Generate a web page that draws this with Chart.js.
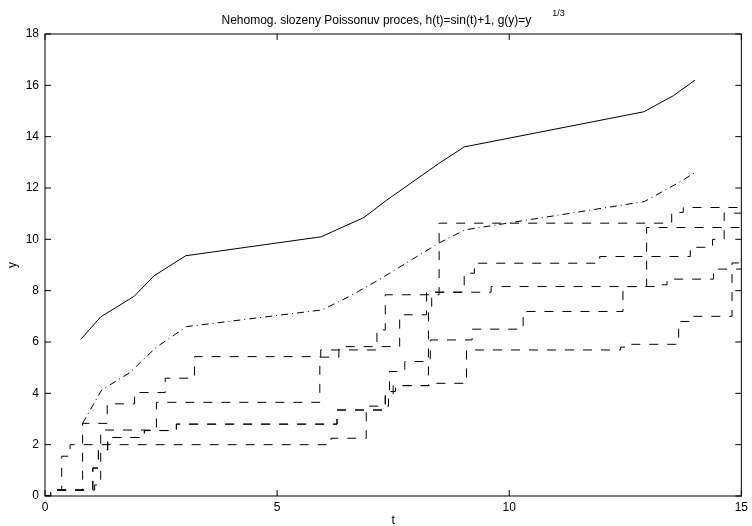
<!DOCTYPE html>
<html>
<head>
<meta charset="utf-8">
<script src="https://cdn.jsdelivr.net/npm/chart.js@4.4.1/dist/chart.umd.min.js"></script>
<style>
  body { margin: 0; background: #fff; }
</style>
</head>
<body>
<canvas id="myChart" width="752" height="526"></canvas>
<script>
// horni krivka (plna)
const meanT = [0.77, 1.2, 1.92, 2.35, 3.03, 5.95, 6.87, 7.37, 8.48, 9.03, 12.9, 13.54, 14.0];
const meanY = [6.1, 6.98, 7.78, 8.58, 9.36, 10.1, 10.85, 11.54, 12.95, 13.6, 14.97, 15.6, 16.2];

// carkovana-teckovana krivka
const ddT = [0.81, 1.22, 1.82, 2.4, 3.05, 5.97, 6.55, 7.19, 8.48, 9.05, 12.91, 13.69, 14.0];
const ddY = [2.83, 4.13, 4.8, 5.8, 6.6, 7.25, 7.77, 8.42, 9.85, 10.37, 11.47, 12.25, 12.6];

// trajektorie (casy skoku a nove hodnoty)
const aT = [0, 0.12, 0.81, 1.34, 1.93, 2.59, 3.22, 5.94, 7.15, 7.33, 8.49, 13.5, 13.75, 15];
const aY = [0, 0.23, 2.83, 3.59, 4.03, 4.59, 5.43, 5.69, 6.47, 7.84, 10.63, 11.05, 11.24, 11.24];

const bT = [0, 0.12, 1.03, 1.15, 1.35, 2.14, 2.83, 6.29, 6.98, 7.4, 7.55, 8.26, 8.33, 9.61, 12.96, 15];
const bY = [0, 0.23, 1.09, 1.8, 2.28, 2.55, 2.8, 3.35, 3.5, 4.07, 4.3, 7.19, 7.94, 8.16, 10.46, 10.46];

const cT = [0, 0.12, 1.07, 1.2, 2.4, 5.92, 6.33, 7.64, 8.22, 9.03, 9.25, 11.95, 13.9, 14.38, 14.63, 15];
const cY = [0, 0.23, 0.43, 2.57, 3.65, 5.41, 5.82, 7.06, 7.94, 8.68, 9.07, 9.33, 9.69, 10.0, 11.02, 11.02];

const dT = [0, 0.12, 1.03, 1.15, 1.35, 2.14, 2.83, 6.29, 7.33, 7.42, 7.75, 8.3, 9.2, 10.3, 12.45, 13.2, 13.4, 14.4, 15];
const dY = [0, 0.23, 1.09, 1.8, 2.28, 2.55, 2.8, 3.35, 3.94, 4.85, 5.24, 6.08, 6.5, 7.19, 8.16, 8.23, 8.45, 8.84, 8.84];

const eT = [0, 0.12, 0.36, 0.54, 6.16, 6.92, 7.33, 7.5, 8.4, 9.08, 12.4, 12.6, 13.65, 13.9, 14.8, 15];
const eY = [0, 0.23, 1.55, 2.0, 2.25, 3.35, 3.94, 4.3, 4.39, 5.69, 5.8, 5.91, 6.8, 7.0, 9.08, 9.08];

const xTicks = [0, 5, 10, 15];
const yTicks = [0, 2, 4, 6, 8, 10, 12, 14, 16, 18];

const titleMain = 'Nehomog. slozeny Poissonuv proces, h(t)=sin(t)+1, g(y)=y';
const titleSup = '1/3';
const xLabel = 't';
const yLabel = 'y';

const FONT = '"Liberation Sans", Arial, Helvetica, sans-serif';

function pts(ts, ys) {
    return ts.map((t, i) => ({ x: t, y: ys[i] }));
}

function stepSet(ts, ys) {
    return {
        data: pts(ts, ys),
        showLine: true,
        stepped: 'before',
        borderColor: '#000',
        borderWidth: 1,
        borderDash: [9, 9],
        pointRadius: 0,
        fill: false
    };
}

// ramecek, znacky os dovnitr, titulek a popisky
const frame = {
    id: 'frame',
    afterDraw(chart) {
        const { ctx, chartArea: a, scales: { x, y } } = chart;
        ctx.save();
        ctx.strokeStyle = '#000';
        ctx.lineWidth = 1;
        ctx.setLineDash([]);
        ctx.strokeRect(a.left, a.top, a.right - a.left, a.bottom - a.top);
        const len = 6;
        ctx.beginPath();
        xTicks.forEach(v => {
            const px = x.getPixelForValue(v);
            ctx.moveTo(px, a.bottom); ctx.lineTo(px, a.bottom - len);
            ctx.moveTo(px, a.top); ctx.lineTo(px, a.top + len);
        });
        yTicks.forEach(v => {
            const py = y.getPixelForValue(v);
            ctx.moveTo(a.left, py); ctx.lineTo(a.left + len, py);
            ctx.moveTo(a.right, py); ctx.lineTo(a.right - len, py);
        });
        ctx.stroke();

        ctx.fillStyle = '#000';
        ctx.font = '12px ' + FONT;
        const wMain = ctx.measureText(titleMain).width;
        ctx.font = '9px ' + FONT;
        const wSup = ctx.measureText(titleSup).width;
        const gap = 21;
        const cx = (a.left + a.right) / 2;
        const x0 = cx - (wMain + gap + wSup) / 2;
        ctx.textAlign = 'left';
        ctx.textBaseline = 'alphabetic';
        ctx.font = '12px ' + FONT;
        ctx.fillText(titleMain, x0, 24);
        ctx.font = '9px ' + FONT;
        ctx.fillText(titleSup, x0 + wMain + gap, 16);

        ctx.font = '12px ' + FONT;
        ctx.textAlign = 'center';
        ctx.textBaseline = 'top';
        ctx.fillText(xLabel, cx, 515);
        ctx.save();
        ctx.translate(13, (a.top + a.bottom) / 2);
        ctx.rotate(-Math.PI / 2);
        ctx.textBaseline = 'middle';
        ctx.fillText(yLabel, 0, 0);
        ctx.restore();
        ctx.restore();
    }
};

const ctx = document.getElementById('myChart').getContext('2d');
const myChart = new Chart(ctx, {
    type: 'scatter',
    data: {
        datasets: [
            {
                data: pts(meanT, meanY),
                showLine: true,
                borderColor: '#000',
                borderWidth: 1,
                pointRadius: 0,
                fill: false
            },
            {
                data: pts(ddT, ddY),
                showLine: true,
                borderColor: '#000',
                borderWidth: 1,
                borderDash: [7, 4, 1, 4],
                pointRadius: 0,
                fill: false
            },
            stepSet(aT, aY),
            stepSet(bT, bY),
            stepSet(cT, cY),
            stepSet(dT, dY),
            stepSet(eT, eY)
        ]
    },
    options: {
        responsive: false,
        animation: false,
        devicePixelRatio: 1,
        layout: { padding: { left: 0, right: 9, top: 34, bottom: 0 } },
        plugins: {
            legend: { display: false },
            tooltip: { enabled: false },
            title: { display: false }
        },
        scales: {
            x: {
                type: 'linear',
                min: 0,
                max: 15,
                afterFit: s => { s.height = 30; },
                afterBuildTicks: s => { s.ticks = xTicks.map(v => ({ value: v })); },
                ticks: { color: '#000', font: { family: FONT, size: 12 }, padding: 4, maxRotation: 0, autoSkip: false },
                grid: { display: false, drawTicks: false },
                border: { display: false }
            },
            y: {
                min: 0,
                max: 18,
                afterFit: s => { s.width = 45; },
                afterBuildTicks: s => { s.ticks = yTicks.map(v => ({ value: v })); },
                ticks: { color: '#000', font: { family: FONT, size: 12 }, padding: 6, autoSkip: false },
                grid: { display: false, drawTicks: false },
                border: { display: false }
            }
        }
    },
    plugins: [frame]
});
</script>
</body>
</html>
